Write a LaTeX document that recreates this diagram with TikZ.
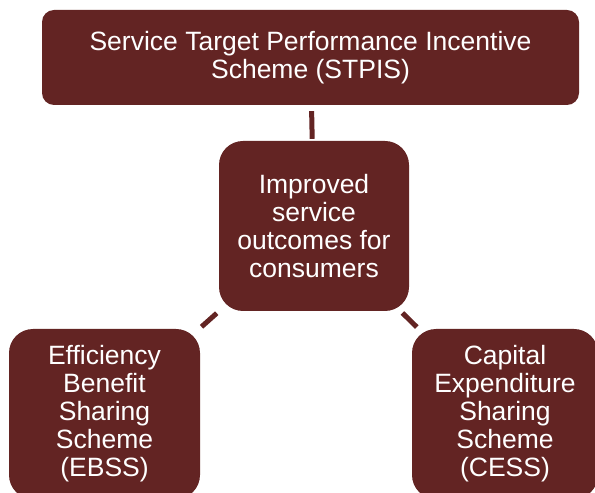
\documentclass[tikz,border=0pt]{standalone}
\usepackage{xcolor}
\usepackage{fontspec}
\setmainfont{Liberation Sans}
\usepackage{tikz}
\usetikzlibrary{positioning}
\definecolor{SchemeMaroon}{HTML}{632423}

\begin{document}
\begin{tikzpicture}[x=1pt, y=1pt,
  scheme/.style={rounded corners=24pt, fill=SchemeMaroon, text=white,
                 align=center, inner sep=0pt,
                 font=\fontsize{26.5}{28}\selectfont},
  link/.style={line width=5pt, draw=SchemeMaroon}
]
\useasboundingbox (0,0) rectangle (595,493);
\clip (0,0) rectangle (595,493);
\node[scheme, rounded corners=12pt, minimum width=537pt, minimum height=95pt]
  (stpis) at (310.5,435.5)
  {Service Target Performance Incentive\\Scheme (STPIS)};
\node[scheme, minimum width=190pt, minimum height=170pt] (hub) at (314,267)
  {Improved\\service\\outcomes for\\consumers};
\node[scheme, minimum width=191pt, minimum height=170pt] (ebss) at (104.5,79)
  {Efficiency\\Benefit\\Sharing\\Scheme\\(EBSS)};
\node[scheme, minimum width=186pt, minimum height=170pt] (cess) at (505,79)
  {Capital\\Expenditure\\Sharing\\Scheme\\(CESS)};
\draw[link, shorten <=6pt, shorten >=2pt] (stpis) -- (hub);
\draw[link, shorten <=3pt, shorten >=3pt] (hub) -- (ebss);
\draw[link, shorten <=2.5pt, shorten >=2.5pt] (hub) -- (cess);
\end{tikzpicture}
\end{document}
